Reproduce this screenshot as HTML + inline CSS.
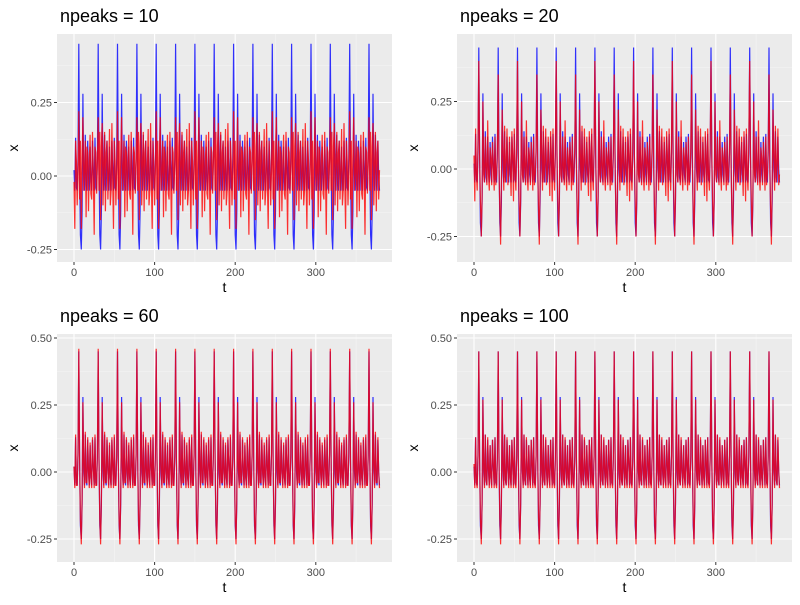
<!DOCTYPE html>
<html><head><meta charset="utf-8"><style>
body{margin:0;background:#fff;font-family:"Liberation Sans",sans-serif}
</style></head><body>
<svg id="c" width="800" height="600" xmlns="http://www.w3.org/2000/svg"></svg>
<script>
// blue reference cycle (one period of 24 time steps, starting at the main peak)
const blueCycle = [0.45,0.05,-0.20,-0.25,-0.12,0.28,0.0,-0.05,0.14,-0.03,-0.05,0.12,0.0,-0.05,0.10,-0.02,-0.05,0.12,0.02,-0.05,0.13,-0.04,-0.05,0.06];
// red reconstructions (two periods each)
const red10 = [0.20,-0.05,0.15,-0.15,0.10,0.18,-0.10,0.05,0.15,-0.12,0.08,0.12,-0.08,0.02,0.16,-0.10,-0.05,0.18,-0.02,-0.18,0.12,0.05,-0.10,0.02,
 0.22,-0.08,0.12,-0.18,0.06,0.20,-0.05,0.02,0.12,-0.14,0.10,0.08,-0.12,0.05,0.14,-0.06,-0.08,0.15,0.00,-0.20,0.10,0.08,-0.06,0.05];
const red20 = [0.35,0.00,-0.15,-0.28,-0.05,0.22,0.05,-0.08,0.16,-0.05,0.02,0.15,-0.06,-0.02,0.12,0.0,-0.10,0.14,0.05,-0.12,0.15,-0.02,-0.08,0.10,
 0.40,0.05,-0.12,-0.25,-0.10,0.25,-0.02,-0.05,0.12,0.0,-0.06,0.18,-0.02,-0.08,0.08,0.04,-0.06,0.10,0.02,-0.08,0.12,-0.06,-0.02,0.08];
const red60 = [0.46,0.05,-0.18,-0.27,-0.10,0.26,0.02,-0.06,0.15,-0.04,-0.04,0.13,0.0,-0.06,0.11,-0.02,-0.06,0.13,0.02,-0.06,0.14,-0.05,-0.05,0.07];
const red100 = [0.45,0.06,-0.17,-0.27,-0.11,0.27,0.01,-0.06,0.14,-0.03,-0.05,0.13,0.01,-0.06,0.10,-0.02,-0.06,0.12,0.03,-0.06,0.13,-0.04,-0.06,0.06];
const titles = ["npeaks = 10","npeaks = 20","npeaks = 60","npeaks = 100"];
const xTicks = [0,100,200,300];
const yTicksA = [-0.25,0.00,0.25];
const yTicksB = [-0.25,0.00,0.25,0.50];
const nT = 380;

const svg=document.getElementById('c');
const NS='http://www.w3.org/2000/svg';
function mk(tag,attrs,parent){const e=document.createElementNS(NS,tag);for(const k in attrs)e.setAttribute(k,attrs[k]);(parent||svg).appendChild(e);return e;}

const panels=[
 {ox:0,oy:0,y0:176,ys:294,red:red10,yt:yTicksA,name:'panel-npeaks-10'},
 {ox:400,oy:0,y0:169,ys:270,red:red20,yt:yTicksA,name:'panel-npeaks-20'},
 {ox:0,oy:300,y0:172,ys:268,red:red60,yt:yTicksB,name:'panel-npeaks-60'},
 {ox:400,oy:300,y0:172,ys:268,red:red100,yt:yTicksB,name:'panel-npeaks-100'}
];
panels.forEach((p,pi)=>{
 const g=mk('g',{transform:`translate(${p.ox},${p.oy})`});
 
 
 const L=57,R=392,T=34,B=262;
 const xs=t=>74+t*0.806;
 const ys=v=>p.y0-v*p.ys;
 const bg=mk('rect',{x:L,y:T,width:R-L,height:B-T,fill:'#ebebeb'},g);
 
 
 for(let i=0;i<xTicks.length;i++){const v=xTicks[i]+50;if(xs(v)<R)mk('line',{x1:xs(v),x2:xs(v),y1:T,y2:B,stroke:'#f5f5f5','stroke-width':0.6},g);}
 for(let i=0;i<p.yt.length;i++){const v=p.yt[i]+0.125;if(ys(v)>T)mk('line',{x1:L,x2:R,y1:ys(v),y2:ys(v),stroke:'#f5f5f5','stroke-width':0.6},g);
  const v2=p.yt[0]-0.125;if(i==0&&ys(v2)<B)mk('line',{x1:L,x2:R,y1:ys(v2),y2:ys(v2),stroke:'#f5f5f5','stroke-width':0.6},g);}
 xTicks.forEach(v=>{mk('line',{x1:xs(v),x2:xs(v),y1:T,y2:B,stroke:'#fff','stroke-width':1.1},g);
  mk('line',{x1:xs(v),x2:xs(v),y1:B,y2:B+3,stroke:'#333','stroke-width':1},g);
  const tx=mk('text',{x:xs(v),y:B+14,'text-anchor':'middle','font-size':11,fill:'#4d4d4d'},g);tx.textContent=v;
  });
 p.yt.forEach(v=>{mk('line',{x1:L,x2:R,y1:ys(v),y2:ys(v),stroke:'#fff','stroke-width':1.1},g);
  mk('line',{x1:L-3,x2:L,y1:ys(v),y2:ys(v),stroke:'#333','stroke-width':1},g);
  const tx=mk('text',{x:L-5,y:ys(v)+4,'text-anchor':'end','font-size':11,fill:'#4d4d4d'},g);tx.textContent=v.toFixed(2);
  });
 let bd='',rd='';
 for(let t=0;t<nT;t++){
  const b=blueCycle[(t+18)%blueCycle.length];
  const r=p.red[(t+18)%p.red.length];
  bd+=(t?'L':'M')+xs(t).toFixed(1)+','+ys(b).toFixed(1);
  rd+=(t?'L':'M')+xs(t).toFixed(1)+','+ys(r).toFixed(1);
 }
 const bl=mk('path',{d:bd,fill:'none',stroke:'#0000ff','stroke-opacity':0.8,'stroke-width':1.2},g);
 
 const rl=mk('path',{d:rd,fill:'none',stroke:'#ff0000','stroke-opacity':0.8,'stroke-width':1.2},g);
 
 const ti=mk('text',{x:60,y:22,'font-size':18,fill:'#000'},g);ti.textContent=titles[pi];
 
 const xl=mk('text',{x:(L+R)/2,y:292,'text-anchor':'middle','font-size':14,fill:'#000'},g);xl.textContent='t';
 
 const yl=mk('text',{x:0,y:0,'text-anchor':'middle','font-size':14,fill:'#000',transform:`translate(18,${(T+B)/2}) rotate(-90)`},g);yl.textContent='x';
 
});
</script>
</body></html>
